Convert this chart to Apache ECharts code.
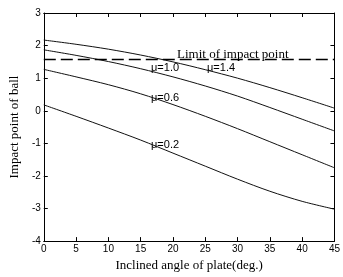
<!DOCTYPE html>
<html>
<head>
<meta charset="utf-8">
<script src="https://cdn.jsdelivr.net/npm/echarts@6/dist/echarts.min.js"></script>
<style>
  html, body { margin: 0; padding: 0; background: #fff; }
  #chart { width: 343px; height: 277px; }
</style>
</head>
<body>
<div id="chart"></div>
<script>
// inclined angle of plate (deg.)
const angles = [0, 5, 10, 15, 20, 25, 30, 35, 40, 45]
// impact point of ball for each friction coefficient
const mu14 = [2.17, 2.04, 1.89, 1.71, 1.50, 1.26, 1.00, 0.71, 0.40, 0.08]
const mu10 = [1.87, 1.70, 1.51, 1.29, 1.04, 0.76, 0.45, 0.10, -0.26, -0.62]
const mu06 = [1.27, 1.04, 0.80, 0.52, 0.19, -0.17, -0.55, -0.95, -1.35, -1.75]
const mu02 = [0.18, -0.17, -0.53, -0.90, -1.30, -1.70, -2.10, -2.47, -2.78, -3.02]
const limitY = 1.57

const serif = '"Liberation Serif", "DejaVu Serif", serif'
const sans = '"Liberation Sans", Arial, sans-serif'

function pairs(ys) {
    return angles.map((a, i) => [a, ys[i]])
}

function curve(ys) {
    return {
        type: 'line',
        data: pairs(ys),
        smooth: 0.3,
        symbol: 'none',
        lineStyle: { color: '#111', width: 1 },
        animation: false
    }
}

const chart = echarts.init(document.getElementById('chart'))

const tickStyle = { show: true, inside: true, length: 4, lineStyle: { color: '#000' } }
const lineStyle = { show: true, onZero: false, lineStyle: { color: '#000', width: 1 } }

chart.setOption({
    animation: false,
    grid: { left: 43, right: 3, top: 13, bottom: 30 },
    xAxis: [
        {
            type: 'value', min: 0, max: 45, interval: 5,
            axisLine: lineStyle,
            axisTick: tickStyle,
            splitLine: { show: false },
            axisLabel: { color: '#000', fontSize: 10, fontFamily: sans, margin: 3 },
            name: 'Inclined angle of plate(deg.)',
            nameLocation: 'middle',
            nameGap: 12,
            nameTextStyle: { color: '#000', fontSize: 13, fontFamily: serif }
        },
        {
            type: 'value', min: 0, max: 45, interval: 5, position: 'top',
            axisLine: lineStyle,
            axisTick: tickStyle,
            splitLine: { show: false },
            axisLabel: { show: false }
        }
    ],
    yAxis: [
        {
            type: 'value', min: -4, max: 3, interval: 1,
            axisLine: lineStyle,
            axisTick: tickStyle,
            splitLine: { show: false },
            axisLabel: { color: '#000', fontSize: 10, fontFamily: sans, margin: 3 },
            name: 'Impact point of ball',
            nameLocation: 'middle',
            nameGap: 14,
            nameTextStyle: { color: '#000', fontSize: 13, fontFamily: serif }
        },
        {
            type: 'value', min: -4, max: 3, interval: 1, position: 'right',
            axisLine: lineStyle,
            axisTick: tickStyle,
            splitLine: { show: false },
            axisLabel: { show: false }
        }
    ],
    series: [
        Object.assign(curve(mu14), {
            markLine: {
                silent: true,
                symbol: 'none',
                label: { show: false },
                lineStyle: { color: '#000', type: [12, 5], width: 1.3 },
                data: [{ yAxis: limitY }]
            }
        }),
        curve(mu10),
        curve(mu06),
        curve(mu02)
    ],
    graphic: [
        { type: 'text', left: 177, top: 48, style: { text: 'Limit of impact point', font: '13px ' + serif, fill: '#000' } },
        { type: 'text', left: 151, top: 62, style: { text: 'μ=1.0', font: '11px ' + sans, fill: '#000' } },
        { type: 'text', left: 207, top: 62, style: { text: 'μ=1.4', font: '11px ' + sans, fill: '#000' } },
        { type: 'text', left: 151, top: 92, style: { text: 'μ=0.6', font: '11px ' + sans, fill: '#000' } },
        { type: 'text', left: 151, top: 139, style: { text: 'μ=0.2', font: '11px ' + sans, fill: '#000' } }
    ]
})
</script>
</body>
</html>
